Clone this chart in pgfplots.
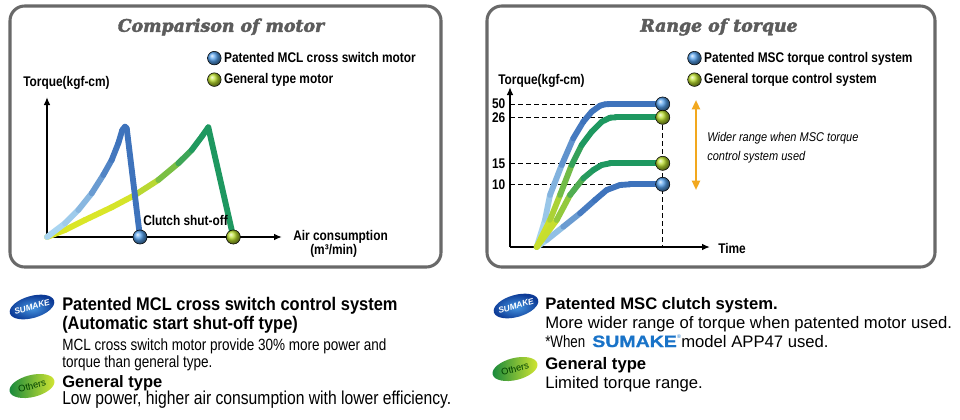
\documentclass[border=0pt]{standalone}
\usepackage{pgfplots}
\pgfplotsset{compat=1.18}
\usepackage{fontspec}
\usetikzlibrary{arrows.meta}
\setmainfont{Liberation Sans}
\newfontfamily\fA{Liberation Sans}[FakeStretch=0.85]
\newfontfamily\fB{Liberation Sans}[FakeStretch=0.9]
\newfontfamily\fC{Liberation Sans}[FakeStretch=0.83]
\newfontfamily\fD{Liberation Sans}[FakeStretch=0.84]
\newfontfamily\fE{Liberation Sans}[FakeStretch=0.87]
\newfontfamily\fW{Liberation Sans}[FakeStretch=0.8]
\newfontfamily\fL{Liberation Sans}[FakeStretch=1.2, FakeBold=1]
\newfontfamily\fT{DejaVu Serif}[FakeBold=2.5]

\definecolor{frame}{RGB}{105,105,105}
\definecolor{ttl}{RGB}{92,92,92}
\definecolor{ballb}{RGB}{85,160,235}
\definecolor{ballg}{RGB}{185,220,45}
\definecolor{orng}{RGB}{242,168,30}
\definecolor{logo}{RGB}{25,115,200}
\definecolor{badgeb}{RGB}{12,58,150}
\definecolor{badgebl}{RGB}{70,150,225}
\definecolor{badgeg}{RGB}{20,135,60}
\definecolor{badgey}{RGB}{215,232,50}

\newcommand\lbl{\fA\bfseries\fontsize{10.5}{12}\selectfont}

\pgfplotsset{
  colormap={bluemap}{rgb255=(172,216,242) rgb255=(62,115,188)},
  colormap={greenmap}{rgb255=(218,230,40) rgb255=(30,152,96)},
  panel/.style={axis lines=left, x=0.75pt, y=0.75pt, xmin=0, ymin=0, clip=false,
    axis line style={line width=1.3pt, -{Latex[length=6pt,width=5pt]}},
    xtick=\empty, ytick=\empty, point meta min=0, point meta max=1,
    legend cell align=left,
    legend style={anchor=north west, draw=none, fill=none, inner sep=0pt,
      outer sep=0pt, row sep=3pt, font=\lbl, nodes={inner sep=2pt}}},
  ramp/.style={mesh, shader=flat, point meta=explicit, line width=4.4pt, line cap=round,
    line join=round, forget plot},
  bmark/.style={only marks, mark=ball, mark size=5.3pt,
    mark options={ball color=#1}, forget plot},
  dash/.style={black, line width=0.7pt, dash pattern=on 3.5pt off 2.5pt, forget plot},
}

\begin{document}
\begin{tikzpicture}[x=0.75pt,y=-0.75pt]
\fill[white] (0,0) rectangle (960,419);
\useasboundingbox (0,0) rectangle (960,419);

% panels
\draw[frame, line width=2.3pt, rounded corners=11pt] (10,6) rectangle (441,267);
\draw[frame, line width=2.3pt, rounded corners=11pt] (487,6) rectangle (935,267);
\node[ttl, font=\fT\bfseries\itshape\fontsize{13}{16}\selectfont] at (221,27) {Comparison of motor};
\node[ttl, font=\fT\bfseries\itshape\fontsize{13}{16}\selectfont] at (719,27) {Range of torque};

% ---- left chart: torque vs air consumption (origin at pixel 47,237)
\begin{axis}[panel, at={(35.25pt,-177.75pt)}, anchor=south west, xmax=235, ymax=140,
  legend style={at={(axis description cs:0.682,1.34)}}]
\addlegendimage{legend image code/.code={\shade[ball color=ballb] (0pt,0pt) circle (5.1pt);}}
\addlegendentry{Patented MCL cross switch motor}
\addlegendimage{legend image code/.code={\shade[ball color=ballg] (0pt,0pt) circle (5.1pt);}}
\addlegendentry{General type motor}
% general type motor
\addplot[ramp, colormap name=greenmap] coordinates {
  (0,0)[0] (18,7)[0] (38,17)[0] (64.7,29.7)[0] (88,42)[0.05] (111.3,57)[0.3]
  (131.3,73.7)[0.7] (144.7,87)[0.95] (154.7,100.3)[1] (161.3,109.7)[1] (186.3,0)[1]};
% MCL cross switch motor
\addplot[ramp, colormap name=bluemap] coordinates {
  (0,0)[0] (18,13.7)[0.05] (31.3,27)[0.2] (44.7,43.7)[0.45] (56.3,62)[0.75]
  (64.7,77)[0.9] (71.3,93.7)[1] (75.3,107)[1] (78,110.3)[1] (79.7,108.7)[1] (93,0)[1]};
\addplot[bmark=ballb] coordinates {(93,0)};
\addplot[bmark=ballg] coordinates {(186.3,0)};
\end{axis}
\node[font=\lbl, anchor=base west, inner sep=0pt] at (23,86.5) {Torque(kgf-cm)};
\node[font=\lbl, anchor=base west, inner sep=0pt] at (143,225) {Clutch shut-off};
\node[font=\lbl, anchor=base west, inner sep=0pt] at (293,240) {Air consumption};
\node[font=\lbl, anchor=base west, inner sep=0pt] at (310,254) {(m³/min)};

% ---- right chart: torque vs time (origin at pixel 510,247)
\begin{axis}[panel, at={(382.5pt,-185.25pt)}, anchor=south west, xmax=200, ymax=160,
  ytick={62.7,83.7,129.7,143}, yticklabels={10,15,26,50}, major tick length=0pt,
  yticklabel style={font=\lbl},
  legend style={at={(axis description cs:0.887,1.235)}}]
\addlegendimage{legend image code/.code={\shade[ball color=ballb] (0pt,0pt) circle (5.1pt);}}
\addlegendentry{Patented MSC torque control system}
\addlegendimage{legend image code/.code={\shade[ball color=ballg] (0pt,0pt) circle (5.1pt);}}
\addlegendentry{General torque control system}
\addplot[dash] coordinates {(0,143) (152.7,143)};
\addplot[dash] coordinates {(0,129.7) (152.7,129.7)};
\addplot[dash] coordinates {(0,83.7) (152.7,83.7)};
\addplot[dash] coordinates {(0,62.7) (152.7,62.7)};
\addplot[dash] coordinates {(152.7,129.7) (152.7,0)};
% MSC 50
\addplot[ramp, colormap name=bluemap] coordinates {
  (26.7,0)[0] (35,27)[0.1] (40,52)[0.25] (51.7,82)[0.5] (63.3,108.7)[0.85]
  (73.3,125.3)[1] (81.7,135.3)[1] (90,141.3)[1] (95,142.7)[1] (100,143)[1] (152.7,143)[1]};
% MSC 10
\addplot[ramp, colormap name=bluemap] coordinates {
  (26.7,0)[0] (36.7,7)[0.1] (53.3,20.3)[0.4] (70,33.7)[0.8] (85,47)[1] (96.7,57)[1]
  (110,62)[1] (120,62.7)[1] (152.7,62.7)[1]};
% general 26
\addplot[ramp, colormap name=greenmap] coordinates {
  (26.7,0)[0] (40,27)[0.15] (50,52)[0.35] (61.7,82)[0.75] (71.7,102)[1]
  (81.7,115.3)[1] (91.7,125.3)[1] (100,129.3)[1] (106,129.7)[1] (152.7,129.7)[1]};
% general 15
\addplot[ramp, colormap name=greenmap] coordinates {
  (26.7,0)[0] (46.7,27)[0.2] (60,52)[0.55] (73.3,68.7)[0.9] (83.3,77)[1]
  (91.7,82)[1] (100,83.7)[1] (152.7,83.7)[1]};
\addplot[bmark=ballb] coordinates {(152.7,143) (152.7,62.7)};
\addplot[bmark=ballg] coordinates {(152.7,129.7) (152.7,83.7)};
\end{axis}
\node[font=\lbl, anchor=base west, inner sep=0pt] at (498,84) {Torque(kgf-cm)};
\node[font=\lbl, anchor=base west, inner sep=0pt] at (718,253) {Time};
\draw[orng, line width=1.6pt, {Triangle[length=7pt,width=6pt]}-{Triangle[length=7pt,width=6pt]}] (696,100) -- (696,190);
\node[font=\fE\itshape\fontsize{9.5}{11}\selectfont, anchor=base west, inner sep=0pt] at (707,141) {Wider range when MSC torque};
\node[font=\fE\itshape\fontsize{9.5}{11}\selectfont, anchor=base west, inner sep=0pt] at (707,160) {control system used};

% ---- badges
\foreach \cx/\cy in {32/307, 516/306} {
  \shade[inner color=badgebl, outer color=badgeb, rotate around={16:(\cx,\cy)}] (\cx,\cy) ellipse (23 and 11);
  \node[white, rotate=16, font=\bfseries\itshape\fontsize{6.3}{7}\selectfont, inner sep=0pt] at (\cx,\cy) {SUMAKE};
}
\foreach \cx/\cy in {32/386, 515/369} {
  \shade[left color=badgeg, right color=badgey, rotate around={14:(\cx,\cy)}] (\cx,\cy) ellipse (23 and 11);
  \node[black!75!green, rotate=14, font=\fontsize{7}{8}\selectfont, inner sep=0pt] at (\cx,\cy) {Others};
}

% ---- left description
\node[font=\fB\bfseries\fontsize{13.7}{16}\selectfont, anchor=base west, inner sep=0pt] at (62,310) {Patented MCL cross switch control system};
\node[font=\fB\bfseries\fontsize{13.7}{16}\selectfont, anchor=base west, inner sep=0pt] at (62,329) {(Automatic start shut-off type)};
\node[font=\fC\fontsize{12.2}{14}\selectfont, anchor=base west, inner sep=0pt] at (62,350) {MCL cross switch motor provide 30\% more power and};
\node[font=\fC\fontsize{12.2}{14}\selectfont, anchor=base west, inner sep=0pt] at (62,367) {torque than general type.};
\node[font=\bfseries\fontsize{12.4}{14}\selectfont, anchor=base west, inner sep=0pt] at (62,387) {General type};
\node[font=\fD\fontsize{14}{16}\selectfont, anchor=base west, inner sep=0pt] at (62,404) {Low power, higher air consumption with lower efficiency.};

% ---- right description
\node[font=\bfseries\fontsize{12.5}{14}\selectfont, anchor=base west, inner sep=0pt] at (545,309) {Patented MSC clutch system.};
\node[font=\fontsize{12.5}{14}\selectfont, anchor=base west, inner sep=0pt] at (545,328) {More wider range of torque when patented motor used.};
\node[font=\fW\fontsize{12.5}{14}\selectfont, anchor=base west, inner sep=0pt] at (545,347) {*When};
\node[logo, font=\fL\bfseries\fontsize{12.2}{14}\selectfont, anchor=base west, inner sep=0pt] at (592,347) {SUMAKE};
\node[logo, font=\fontsize{4}{5}\selectfont, inner sep=0pt] at (679,337) {®};
\node[font=\fontsize{12.5}{14}\selectfont, anchor=base west, inner sep=0pt] at (681,347) {model APP47 used.};
\node[font=\bfseries\fontsize{12.5}{14}\selectfont, anchor=base west, inner sep=0pt] at (545,369) {General type};
\node[font=\fontsize{12.5}{14}\selectfont, anchor=base west, inner sep=0pt] at (545,388) {Limited torque range.};
\end{tikzpicture}
\end{document}
